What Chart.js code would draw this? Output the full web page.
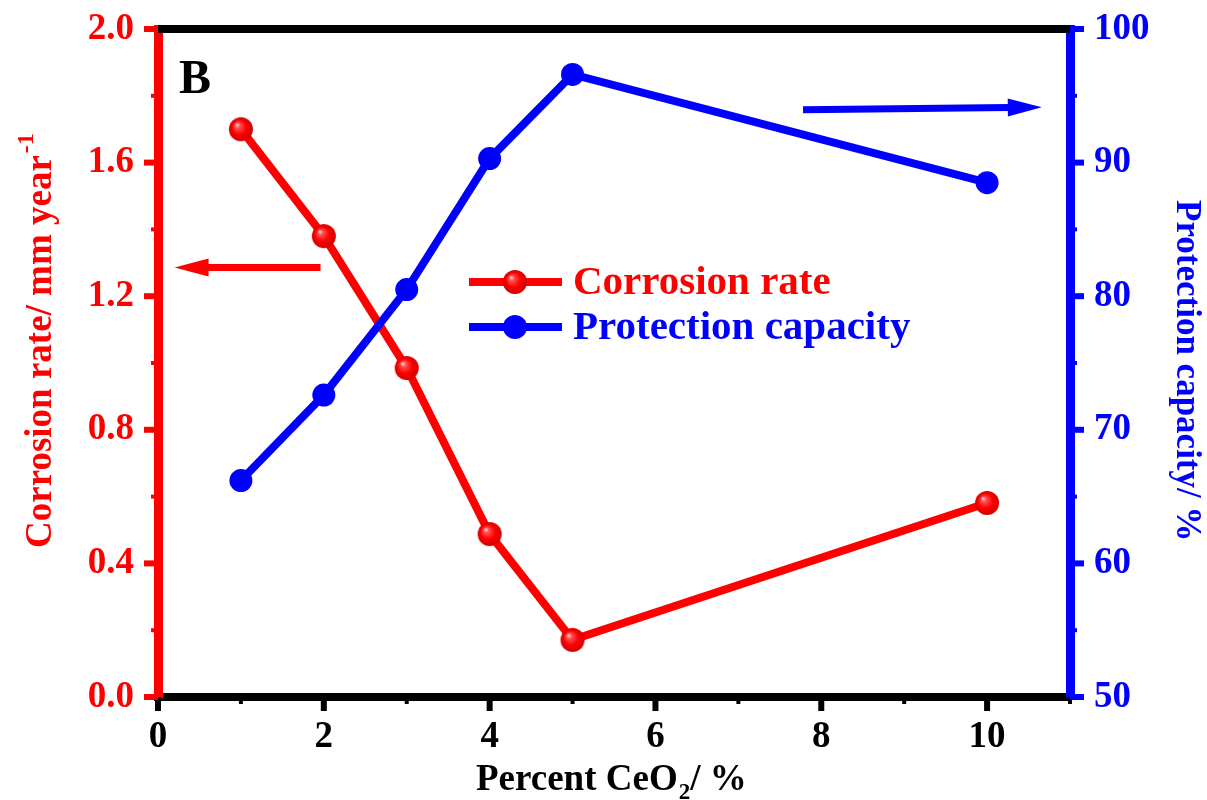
<!DOCTYPE html>
<html lang="en">
<head>
<meta charset="UTF-8">
<title>Corrosion rate and protection capacity vs CeO2</title>
<script src="https://cdn.jsdelivr.net/npm/chart.js"></script>
<style>
  body { margin: 0; background: #fff; }
  #chart { display: block; }
</style>
</head>
<body>
<canvas id="chart" width="1207" height="800"></canvas>
<script>
// data
const percentCeO2 = [1, 2, 3, 4, 5, 10];
const corrosionRate = [1.70, 1.38, 0.985, 0.488, 0.171, 0.581];
const protectionCapacity = [66.2, 72.6, 80.5, 90.3, 96.6, 88.5];

// labelled ticks
const xTickLabels = [0, 2, 4, 6, 8, 10];
const leftTickLabels = [0.0, 0.4, 0.8, 1.2, 1.6, 2.0];
const rightTickLabels = [50, 60, 70, 80, 90, 100];

// arrows, in data units: [x, y]
const redArrow = [[1.96, 1.286], [0.20, 1.286]];
const blueArrow = [[7.78, 93.95], [10.66, 94.15]];

const RED = '#ff0000';
const BLUE = '#0000ff';
const FONT = '"Liberation Serif", "Times New Roman", serif';

function isLabelled(list, v) {
    return list.some(t => Math.abs(t - v) < 1e-6);
}

// little shaded ball for the corrosion-rate markers
function sphere(r) {
    const c = document.createElement('canvas');
    c.width = c.height = r * 2 + 2;
    const g = c.getContext('2d');
    const cx = r + 1, cy = r + 1;
    const grad = g.createRadialGradient(cx - r * 0.35, cy - r * 0.4, 0, cx, cy, r);
    grad.addColorStop(0, '#ffe8e8');
    grad.addColorStop(0.22, '#ff5050');
    grad.addColorStop(0.6, '#ff0000');
    grad.addColorStop(1, '#d00000');
    g.fillStyle = grad;
    g.beginPath();
    g.arc(cx, cy, r, 0, Math.PI * 2);
    g.fill();
    return c;
}
const redBall = sphere(12);

function arrow(ctx, x1, y1, x2, y2, color) {
    const a = Math.atan2(y2 - y1, x2 - x1);
    const head = 34, half = 9;
    const bx = x2 - head * Math.cos(a), by = y2 - head * Math.sin(a);
    ctx.strokeStyle = color;
    ctx.lineWidth = 7;
    ctx.beginPath();
    ctx.moveTo(x1, y1);
    ctx.lineTo(bx + Math.cos(a), by + Math.sin(a));
    ctx.stroke();
    ctx.fillStyle = color;
    ctx.beginPath();
    ctx.moveTo(x2, y2);
    ctx.lineTo(bx - half * Math.sin(a), by + half * Math.cos(a));
    ctx.lineTo(bx + half * Math.sin(a), by - half * Math.cos(a));
    ctx.closePath();
    ctx.fill();
}

// ticks: long for labelled values, short otherwise
function drawTicks(ctx, scale, labelled, color, edge, dir, vertical) {
    ctx.strokeStyle = color;
    scale.ticks.forEach(t => {
        const major = isLabelled(labelled, t.value);
        const len = major ? 14 : 7;
        ctx.lineWidth = major ? 6 : 4;
        const p = scale.getPixelForValue(t.value);
        ctx.beginPath();
        if (vertical) {
            ctx.moveTo(p, edge); ctx.lineTo(p, edge + dir * len);
        } else {
            ctx.moveTo(edge, p); ctx.lineTo(edge + dir * len, p);
        }
        ctx.stroke();
    });
}

const extras = {
    id: 'extras',
    afterDraw(chart) {
        const ctx = chart.ctx;
        const area = chart.chartArea;
        const sx = chart.scales.x, sy = chart.scales.y, sy2 = chart.scales.y2;
        ctx.save();

        // top frame line
        ctx.strokeStyle = '#000';
        ctx.lineWidth = 8;
        ctx.beginPath();
        ctx.moveTo(area.left, area.top);
        ctx.lineTo(area.right, area.top);
        ctx.stroke();

        drawTicks(ctx, sx, xTickLabels, '#000', area.bottom, 1, true);
        drawTicks(ctx, sy, leftTickLabels, RED, area.left, -1, false);
        drawTicks(ctx, sy2, rightTickLabels, BLUE, area.right, 1, false);

        // arrows pointing at the axes
        arrow(ctx, sx.getPixelForValue(redArrow[0][0]), sy.getPixelForValue(redArrow[0][1]),
            sx.getPixelForValue(redArrow[1][0]), sy.getPixelForValue(redArrow[1][1]), RED);
        arrow(ctx, sx.getPixelForValue(blueArrow[0][0]), sy2.getPixelForValue(blueArrow[0][1]),
            sx.getPixelForValue(blueArrow[1][0]), sy2.getPixelForValue(blueArrow[1][1]), BLUE);

        // legend inside the plot
        const lx = 469, lw = 93;
        const rows = [
            { y: 282, color: RED, text: 'Corrosion rate', ball: true },
            { y: 327, color: BLUE, text: 'Protection capacity', ball: false }
        ];
        ctx.font = 'bold 41px ' + FONT;
        ctx.textBaseline = 'alphabetic';
        ctx.textAlign = 'left';
        rows.forEach(r => {
            ctx.strokeStyle = r.color;
            ctx.lineWidth = 8;
            ctx.beginPath(); ctx.moveTo(lx, r.y); ctx.lineTo(lx + lw, r.y); ctx.stroke();
            const mx = lx + 46;
            if (r.ball) {
                ctx.drawImage(redBall, mx - redBall.width / 2, r.y - redBall.height / 2);
            } else {
                ctx.fillStyle = r.color;
                ctx.beginPath(); ctx.arc(mx, r.y, 12, 0, Math.PI * 2); ctx.fill();
            }
            ctx.fillStyle = r.color;
            ctx.fillText(r.text, 573, r.y + 12);
        });

        // panel letter
        ctx.fillStyle = '#000';
        ctx.font = 'bold 48px ' + FONT;
        ctx.fillText('B', 179, 93);

        // left axis title
        ctx.save();
        ctx.translate(51, 548);
        ctx.rotate(-Math.PI / 2);
        ctx.fillStyle = RED;
        ctx.font = 'bold 37px ' + FONT;
        const leftMain = 'Corrosion rate/ mm year';
        ctx.fillText(leftMain, 0, 0);
        const w1 = ctx.measureText(leftMain).width;
        ctx.font = 'bold 24px ' + FONT;
        ctx.fillText('-1', w1 + 2, -18);
        ctx.restore();

        // right axis title
        ctx.save();
        ctx.translate(1177, 200);
        ctx.rotate(Math.PI / 2);
        ctx.fillStyle = BLUE;
        ctx.font = 'bold 35px ' + FONT;
        ctx.fillText('Protection capacity/ %', 0, 0);
        ctx.restore();

        // bottom axis title
        ctx.fillStyle = '#000';
        ctx.font = 'bold 37px ' + FONT;
        let tx = 476;
        const part1 = 'Percent CeO';
        ctx.fillText(part1, tx, 790);
        tx += ctx.measureText(part1).width;
        ctx.font = 'bold 23px ' + FONT;
        ctx.fillText('2', tx + 1, 799);
        tx += ctx.measureText('2').width + 1;
        ctx.font = 'bold 37px ' + FONT;
        ctx.fillText('/ %', tx, 790);

        ctx.restore();
    }
};

const tickFont = { family: FONT, weight: 'bold', size: 37, lineHeight: 1 };
const hiddenTick = 'rgba(0,0,0,0)';

new Chart(document.getElementById('chart').getContext('2d'), {
    type: 'line',
    data: {
        datasets: [{
            label: 'Corrosion rate',
            data: percentCeO2.map((x, i) => ({ x: x, y: corrosionRate[i] })),
            yAxisID: 'y',
            borderColor: RED,
            backgroundColor: RED,
            borderWidth: 8,
            pointStyle: redBall,
            pointRadius: 12,
            tension: 0,
            order: 2
        }, {
            label: 'Protection capacity',
            data: percentCeO2.map((x, i) => ({ x: x, y: protectionCapacity[i] })),
            yAxisID: 'y2',
            borderColor: BLUE,
            backgroundColor: BLUE,
            borderWidth: 8,
            pointRadius: 11.5,
            pointBorderWidth: 0,
            tension: 0,
            order: 1
        }]
    },
    options: {
        responsive: false,
        animation: false,
        layout: { padding: { top: 29, left: 0, right: 0, bottom: 0 } },
        plugins: { legend: { display: false }, tooltip: { enabled: false } },
        scales: {
            x: {
                type: 'linear',
                min: 0, max: 11,
                afterFit: s => { s.height = 103; },
                border: { color: '#000', width: 8 },
                grid: { drawOnChartArea: false, tickLength: 14, tickColor: hiddenTick },
                ticks: {
                    stepSize: 1, color: '#000', font: tickFont, padding: 8, maxRotation: 0,
                    autoSkip: false,
                    callback: v => isLabelled(xTickLabels, v) ? String(v) : ''
                }
            },
            y: {
                position: 'left',
                min: 0, max: 2,
                afterFit: s => { s.width = 158; },
                border: { color: RED, width: 9 },
                grid: { drawOnChartArea: false, tickLength: 14, tickColor: hiddenTick },
                ticks: {
                    stepSize: 0.2, color: RED, font: tickFont, padding: 10, autoSkip: false,
                    callback: v => isLabelled(leftTickLabels, v) ? v.toFixed(1) : ''
                }
            },
            y2: {
                position: 'right',
                min: 50, max: 100,
                afterFit: s => { s.width = 137; },
                border: { color: BLUE, width: 9 },
                grid: { drawOnChartArea: false, tickLength: 14, tickColor: hiddenTick },
                ticks: {
                    stepSize: 5, color: BLUE, font: tickFont, padding: 10, autoSkip: false,
                    callback: v => isLabelled(rightTickLabels, v) ? String(v) : ''
                }
            }
        }
    },
    plugins: [extras]
});
</script>
</body>
</html>
